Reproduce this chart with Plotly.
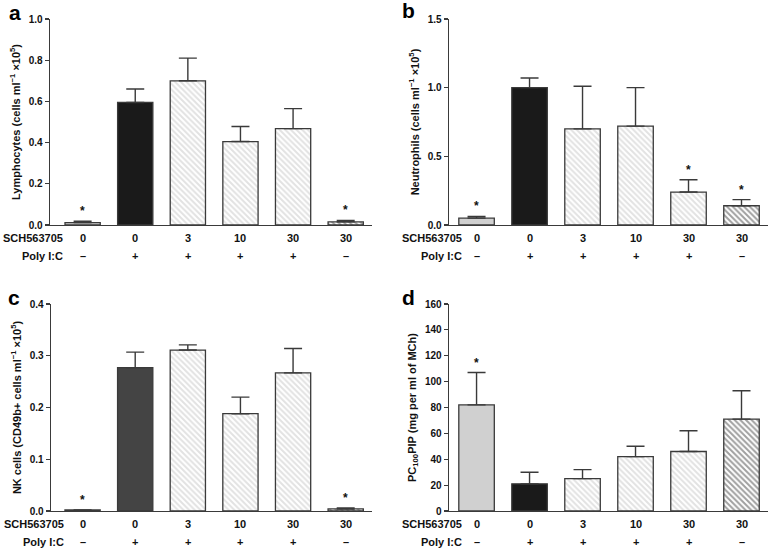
import plotly.graph_objects as go

W, H = 769, 549

categories = [0, 1, 2, 3, 4, 5]
sch_labels = ["0", "0", "3", "10", "30", "30"]
poly_labels = ["–", "+", "+", "+", "+", "–"]

lymph_vals = [0.012, 0.595, 0.700, 0.405, 0.468, 0.015]
lymph_err = [0.006, 0.065, 0.110, 0.073, 0.097, 0.007]
lymph_star = [True, False, False, False, False, True]

neut_vals = [0.050, 1.000, 0.700, 0.720, 0.240, 0.140]
neut_err = [0.012, 0.070, 0.310, 0.280, 0.090, 0.045]
neut_star = [True, False, False, False, True, True]

nk_vals = [0.002, 0.277, 0.311, 0.188, 0.267, 0.004]
nk_err = [0.000, 0.030, 0.010, 0.032, 0.047, 0.002]
nk_star = [True, False, False, False, False, True]

pc_vals = [82, 21, 25, 42, 46, 71]
pc_err = [25, 9, 7, 8, 16, 22]
pc_star = [True, False, False, False, False, False]


def px(x):
    return x / W


def py(y):
    return 1 - y / H


LIGHT = "#d0d0d0"
HATCH_BG = "#e2e2e2"
HATCH_FG = "#9a9a9a"
DARK_BG = "#a0a0a0"
DARK_FG = "#3c3c3c"


def bg_colors(second):
    return [LIGHT, second, HATCH_BG, HATCH_BG, HATCH_BG, DARK_BG]


shapes_p = ["", "", "\\", "\\", "\\", "\\"]
fg_p = [LIGHT, "#000", HATCH_FG, HATCH_FG, HATCH_FG, DARK_FG]

panels = [
    dict(vals=lymph_vals, err=lymph_err, star=lymph_star, second="#1a1a1a",
         title="Lymphocytes (cells ml<sup>−1</sup> ×10<sup>5</sup>)",
         yr=[0, 1.0], dt=0.2, fmt=".1f", letter="a", lpos=(14.5, 12),
         xd=[px(50), px(372)], yd=[py(225), py(19)], xr=[-0.62, 5.5]),
    dict(vals=neut_vals, err=neut_err, star=neut_star, second="#1a1a1a",
         title="Neutrophils (cells ml<sup>−1</sup> ×10<sup>5</sup>)",
         yr=[0, 1.5], dt=0.5, fmt=".1f", letter="b", lpos=(408, 11),
         xd=[px(449), px(768)], yd=[py(225), py(19)], xr=[-0.52, 5.5]),
    dict(vals=nk_vals, err=nk_err, star=nk_star, second="#444444",
         title="NK cells (CD49b+ cells ml<sup>−1</sup> ×10<sup>5</sup>)",
         yr=[0, 0.4], dt=0.1, fmt=".1f", letter="c", lpos=(14, 297),
         xd=[px(51), px(372)], yd=[py(511), py(304)], xr=[-0.6, 5.5]),
    dict(vals=pc_vals, err=pc_err, star=pc_star, second="#1a1a1a",
         title="PC<sub>100</sub>PIP (mg per ml of MCh)",
         yr=[0, 160], dt=20, fmt="d", letter="d", lpos=(408, 297),
         xd=[px(449), px(768)], yd=[py(511), py(304)], xr=[-0.52, 5.5]),
]

FONT = "Liberation Sans, Arial, sans-serif"
fig = go.Figure()
annotations = []
layout = {}

for i, p in enumerate(panels):
    n = "" if i == 0 else str(i + 1)
    xa, ya = "x" + n, "y" + n
    bgs = bg_colors(p["second"])
    fig.add_trace(go.Bar(
        x=categories, y=p["vals"], xaxis=xa, yaxis=ya, width=0.67,
        marker=dict(color=bgs,
                    line=dict(color="#3a3a3a", width=1.3),
                    pattern=dict(shape=shapes_p, fgcolor=fg_p, bgcolor=bgs,
                                 size=4, solidity=0.5)),
        error_y=dict(type="data", symmetric=False, array=p["err"],
                     arrayminus=[0] * 6, color="#3a3a3a", thickness=1.4, width=9),
        showlegend=False, hoverinfo="skip"))
    layout["xaxis" + n] = dict(domain=p["xd"], anchor=ya, range=p["xr"], automargin=False,
                               showticklabels=False, ticks="", showgrid=False,
                               zeroline=False, showline=True, linecolor="#3a3a3a",
                               linewidth=1.4, fixedrange=True)
    layout["yaxis" + n] = dict(domain=p["yd"], anchor=xa, range=p["yr"], dtick=p["dt"],
                               automargin=False, fixedrange=True,
                               tick0=0, tickformat=p["fmt"], ticks="outside", ticklen=4,
                               tickwidth=1.2, tickcolor="#3a3a3a", showgrid=False,
                               zeroline=False, showline=True, linecolor="#3a3a3a",
                               linewidth=1.4,
                               tickfont=dict(family=FONT, size=10, color="#111", weight="bold"),
                               title=dict(text="<b>" + p["title"] + "</b>", standoff=6,
                                          font=dict(family=FONT, size=11, color="#111")))
    for k in categories:
        if p["star"][k]:
            annotations.append(dict(x=k, y=p["vals"][k] + p["err"][k], xref=xa, yref=ya,
                                    text="<b>*</b>", showarrow=False, yanchor="bottom",
                                    yshift=1, font=dict(family=FONT, size=12, color="#111")))
    base_px = 225 if i < 2 else 511
    row1 = py(base_px + 13)
    row2 = py(base_px + 31)
    right_x = p["xd"][0] + 15 / W
    annotations.append(dict(x=right_x, y=row1, xref="paper", yref="paper",
                            text="<b>SCH563705</b>", showarrow=False, xanchor="right",
                            yanchor="middle",
                            font=dict(family=FONT, size=11, color="#111")))
    annotations.append(dict(x=right_x, y=row2, xref="paper", yref="paper",
                            text="<b>Poly I:C</b>", showarrow=False, xanchor="right",
                            yanchor="middle",
                            font=dict(family=FONT, size=11, color="#111")))
    for k in categories:
        annotations.append(dict(x=k, y=row1, xref=xa, yref="paper",
                                text="<b>" + sch_labels[k] + "</b>", yanchor="middle",
                                showarrow=False, font=dict(family=FONT, size=11, color="#111")))
        annotations.append(dict(x=k, y=row2, xref=xa, yref="paper",
                                text="<b>" + poly_labels[k] + "</b>", yanchor="middle",
                                showarrow=False, font=dict(family=FONT, size=11, color="#111")))
    lx, ly = p["lpos"]
    annotations.append(dict(x=px(lx), y=py(ly), xref="paper", yref="paper",
                            xanchor="center", yanchor="middle",
                            text="<b>" + p["letter"] + "</b>", showarrow=False,
                            font=dict(family=FONT, size=21, color="#000")))

fig.update_layout(**layout)
fig.update_layout(template="none", width=W, height=H,
                  margin=dict(l=0, r=0, t=0, b=0, pad=0),
                  paper_bgcolor="white", plot_bgcolor="white",
                  annotations=annotations, bargap=0.3, hovermode=False)
fig.write_html("out.html", config={"displayModeBar": False, "staticPlot": True},
               post_script="document.body.style.margin='0';document.body.style.overflow='hidden';")
